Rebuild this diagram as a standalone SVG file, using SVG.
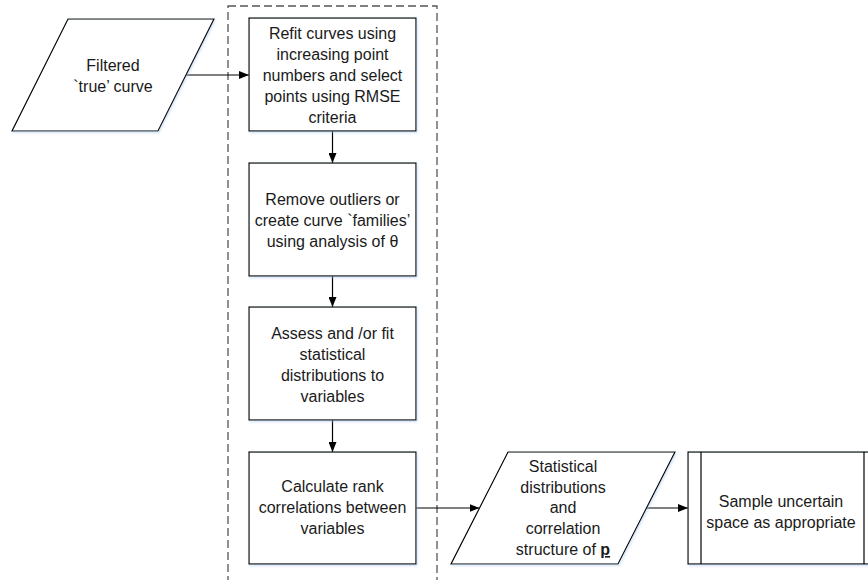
<svg xmlns="http://www.w3.org/2000/svg" width="868" height="580" viewBox="0 0 868 580">
<style>
.shape{fill:#fff;stroke:#000;stroke-width:1.2;filter:url(#sh)}
.line{fill:none;stroke:#000;stroke-width:1.2}
.t{font-family:"Liberation Sans",Arial,sans-serif;font-size:16px;fill:#1a1a1a;text-anchor:middle}
.dash{fill:none;stroke:#555;stroke-width:1.3;stroke-dasharray:8 4}
</style>
<defs>
<filter id="sh" x="-10%" y="-10%" width="120%" height="120%">
<feDropShadow dx="1" dy="1.5" stdDeviation="1.2" flood-color="#9dc3e6" flood-opacity="0.45"/>
</filter>
<marker id="ah" viewBox="0 0 10 8" refX="10" refY="4" markerWidth="10" markerHeight="8" markerUnits="userSpaceOnUse" orient="auto">
<path d="M0,0 L10,4 L0,8 Z" fill="#000"/>
</marker>
</defs>
<rect id="group-box" class="dash" x="228" y="6" width="209" height="590"/>
<g id="connectors">
<line class="line" x1="186" y1="75" x2="249" y2="75" marker-end="url(#ah)"/>
<line class="line" x1="332.5" y1="131" x2="332.5" y2="163" marker-end="url(#ah)"/>
<line class="line" x1="332.5" y1="276" x2="332.5" y2="307" marker-end="url(#ah)"/>
<line class="line" x1="332.5" y1="420" x2="332.5" y2="452" marker-end="url(#ah)"/>
<line class="line" x1="416" y1="508" x2="479.5" y2="508" marker-end="url(#ah)"/>
<line class="line" x1="647" y1="508" x2="688" y2="508" marker-end="url(#ah)"/>
</g>
<g id="filtered-curve">
<polygon class="shape" points="68,19 214,19 158,131 12,131"/>
<text class="t" x="113" y="71">Filtered</text>
<text class="t" x="113" y="92">`true’ curve</text>
</g>
<g id="refit">
<rect class="shape" x="249" y="18" width="167" height="113"/>
<text class="t" x="332.5" y="39">Refit curves using</text>
<text class="t" x="332.5" y="60">increasing point</text>
<text class="t" x="332.5" y="81">numbers and select</text>
<text class="t" x="332.5" y="102">points using RMSE</text>
<text class="t" x="332.5" y="123">criteria</text>
</g>
<g id="remove-outliers">
<rect class="shape" x="249" y="163" width="167" height="113"/>
<text class="t" x="332.5" y="205">Remove outliers or</text>
<text class="t" x="332.5" y="226">create curve `families’</text>
<text class="t" x="332.5" y="247">using analysis of θ</text>
</g>
<g id="assess">
<rect class="shape" x="249" y="307" width="167" height="113"/>
<text class="t" x="332.5" y="339">Assess and /or fit</text>
<text class="t" x="332.5" y="360">statistical</text>
<text class="t" x="332.5" y="381">distributions to</text>
<text class="t" x="332.5" y="402">variables</text>
</g>
<g id="rank-correlations">
<rect class="shape" x="249" y="452" width="167" height="112"/>
<text class="t" x="332.5" y="492">Calculate rank</text>
<text class="t" x="332.5" y="513">correlations between</text>
<text class="t" x="332.5" y="534">variables</text>
</g>
<g id="distributions">
<polygon class="shape" points="508,452 675,452 618,564 451,564"/>
<text class="t" x="563" y="472">Statistical</text>
<text class="t" x="563" y="493">distributions</text>
<text class="t" x="563" y="513">and</text>
<text class="t" x="563" y="534">correlation</text>
<text class="t" x="563" y="555">structure of <tspan font-weight="bold" text-decoration="underline">p</tspan></text>
</g>
<g id="sample">
<rect class="shape" x="688" y="452" width="190" height="112"/>
<line class="line" x1="701" y1="452" x2="701" y2="564"/>
<line class="line" x1="864" y1="452" x2="864" y2="564"/>
<text class="t" x="781" y="507">Sample uncertain</text>
<text class="t" x="781" y="528">space as appropriate</text>
</g>
</svg>
